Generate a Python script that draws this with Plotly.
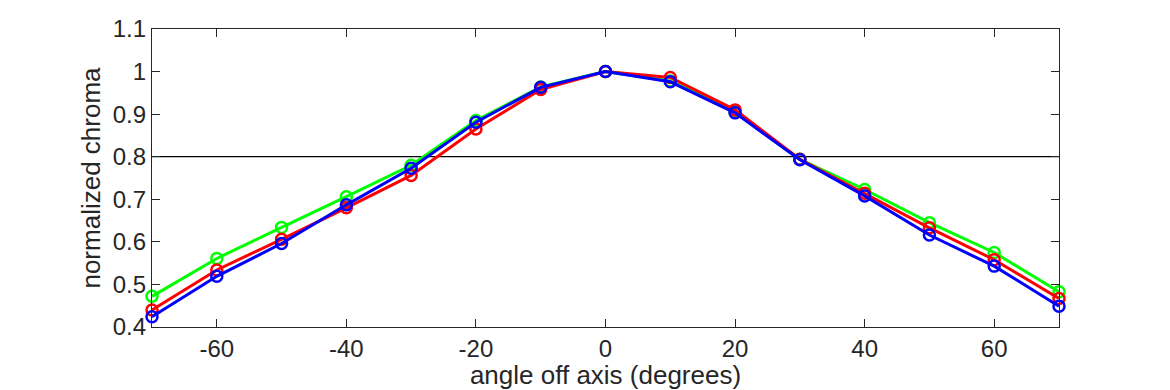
import plotly.graph_objects as go

angles = [-70, -60, -50, -40, -30, -20, -10, 0, 10, 20, 30, 40, 50, 60, 70]
green_vals = [0.472, 0.561, 0.634, 0.706, 0.780, 0.885, 0.964, 1.0, 0.978, 0.905, 0.794, 0.723, 0.645, 0.575, 0.483]
red_vals = [0.440, 0.534, 0.606, 0.680, 0.756, 0.865, 0.958, 1.0, 0.986, 0.910, 0.794, 0.714, 0.633, 0.558, 0.467]
blue_vals = [0.424, 0.519, 0.596, 0.687, 0.773, 0.881, 0.963, 1.0, 0.976, 0.903, 0.793, 0.708, 0.616, 0.543, 0.449]
threshold = 0.8
x_ticks = [-60, -40, -20, 0, 20, 40, 60]
x_labels = ["-60", "-40", "-20", "0", "20", "40", "60"]
y_ticks = [0.4, 0.5, 0.6, 0.7, 0.8, 0.9, 1.0, 1.1]
y_labels = ["0.4", "0.5", "0.6", "0.7", "0.8", "0.9", "1", "1.1"]

FONT = "Liberation Sans, Arial, sans-serif"
INK = "#262626"

fig = go.Figure()
for vals, col in [(green_vals, "#00ff00"), (red_vals, "#ff0000"), (blue_vals, "#0000ff")]:
    fig.add_trace(go.Scatter(
        x=angles, y=vals, mode="lines+markers",
        line=dict(color=col, width=3),
        marker=dict(symbol="circle-open", size=11, color=col, line=dict(width=2.5, color=col)),
        showlegend=False, cliponaxis=False,
    ))

fig.add_shape(type="line", xref="paper", x0=0, x1=1, yref="y", y0=threshold, y1=threshold,
              line=dict(color="black", width=1.2), layer="below")

axis_common = dict(showgrid=False, zeroline=False, showline=True, linecolor=INK, linewidth=1.2,
                   mirror="ticks", ticks="inside", ticklen=8, tickwidth=1, tickcolor=INK,
                   automargin=False,
                   tickfont=dict(family=FONT, size=24, color=INK))

fig.update_xaxes(range=[-70, 70], tickvals=x_ticks, ticktext=x_labels,
                 title=dict(text="angle off axis (degrees)", standoff=0,
                            font=dict(family=FONT, size=26, color=INK)),
                 **axis_common)
fig.update_yaxes(range=[0.4, 1.1], tickvals=y_ticks, ticktext=y_labels,
                 title=dict(text="normalized chroma", standoff=4,
                            font=dict(family=FONT, size=26, color=INK)),
                 **axis_common)

# page body has an 8px default margin; compensate so the plot area lands where the reference has it
fig.update_layout(width=1162, height=382, margin=dict(l=144, r=111, t=21, b=63),
                  plot_bgcolor="white", paper_bgcolor="white")

fig.write_html("out.html")
